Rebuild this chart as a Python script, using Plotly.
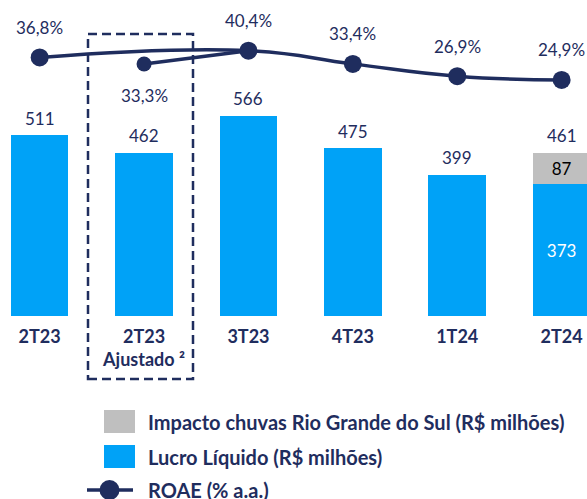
import plotly.graph_objects as go

# ---------------- data ----------------
categories = ["2T23", "2T23<br>Ajustado ²", "3T23", "4T23", "1T24", "2T24"]
lucro = [511, 462, 566, 475, 399, 373]          # Lucro Líquido (R$ milhões)
impacto = [None, None, None, None, None, 87]    # Impacto chuvas RS (R$ milhões)
totals = [511, 462, 566, 475, 399, 461]         # labels above bars
roae = [36.8, 33.3, 40.4, 33.4, 26.9, 24.9]     # ROAE (% a.a.)
ADJ_IDX = 1                                     # adjusted quarter
legend_names = ["Impacto chuvas Rio Grande do Sul (R$ milhões)",
                "Lucro Líquido (R$ milhões)",
                "ROAE (% a.a.)"]

# ---------------- style ----------------
W, H = 587, 499
PLOT_BOTTOM = 316
NAVY = "#1F2D5E"
BLUE = "#00A2F7"
GRAY = "#BFBFBF"
FONT = "Lato"

xs = list(range(len(categories)))
main_idx = [i for i in xs if i != ADJ_IDX]


def py(p):
    return (PLOT_BOTTOM - p) / PLOT_BOTTOM


def px(p):
    return p / W


fig = go.Figure()

# bars
lucro_text = ["" for _ in lucro]
lucro_text[-1] = str(lucro[-1])
imp_text = ["" if v is None else str(v) for v in impacto]

fig.add_bar(x=xs, y=lucro, width=0.551, marker=dict(color=BLUE, line=dict(width=0)),
            text=lucro_text, textposition="inside", insidetextanchor="middle",
            textfont=dict(family=FONT, size=17, color="white"), showlegend=False,
            hoverinfo="skip")
fig.add_bar(x=xs, y=impacto, width=0.551, marker=dict(color=GRAY, line=dict(width=0)),
            text=imp_text, textposition="inside", insidetextanchor="middle",
            textfont=dict(family=FONT, size=17, color="black"), showlegend=False,
            hoverinfo="skip")

# ROAE adjusted segment (its end point is covered by the main line's marker)
fig.add_scatter(x=[xs[ADJ_IDX], xs[ADJ_IDX + 1]], y=[roae[ADJ_IDX], roae[ADJ_IDX + 1]],
                yaxis="y2", mode="lines+markers",
                line=dict(color=NAVY, width=3.5),
                marker=dict(color=NAVY, size=15, opacity=1, line=dict(width=0)),
                showlegend=False, hoverinfo="skip")
# ROAE main line
fig.add_scatter(x=[xs[i] for i in main_idx], y=[roae[i] for i in main_idx],
                yaxis="y2", mode="lines+markers",
                line=dict(color=NAVY, width=3.5, shape="spline", smoothing=1.3),
                marker=dict(color=NAVY, size=18, line=dict(width=0)),
                showlegend=False, hoverinfo="skip")

annotations = []
for i in xs:
    annotations.append(dict(x=i, y=totals[i], xref="x", yref="y", text=str(totals[i]),
                            showarrow=False, yanchor="middle", yshift=17,
                            font=dict(family=FONT, size=17, color=NAVY)))
    lab = f"{roae[i]:.1f}%".replace(".", ",")
    annotations.append(dict(x=i, y=roae[i], xref="x", yref="y2", text=lab,
                            showarrow=False, yanchor="middle",
                            yshift=-31 if i == ADJ_IDX else 30,
                            font=dict(family=FONT, size=17, color=NAVY)))

# manual legend
leg_y = [421.5, 456.5, 490]
for name, yc in zip(legend_names, leg_y):
    annotations.append(dict(x=px(146), y=py(yc), xref="paper", yref="paper", text=name,
                            showarrow=False, xanchor="left", yanchor="middle",
                            font=dict(family=FONT, size=20, color=NAVY, weight="bold")))

shapes = [
    # dashed box around adjusted quarter
    dict(type="rect", xref="paper", yref="paper", x0=px(88), x1=px(193),
         y0=py(379), y1=py(34), line=dict(color=NAVY, width=2.5, dash="9px,5px"),
         layer="below"),
    dict(type="rect", xref="paper", yref="paper", x0=px(104), x1=px(135),
         y0=py(433), y1=py(410), fillcolor=GRAY, line=dict(width=0)),
    dict(type="rect", xref="paper", yref="paper", x0=px(104), x1=px(135),
         y0=py(468), y1=py(445), fillcolor=BLUE, line=dict(width=0)),
    dict(type="line", xref="paper", yref="paper", x0=px(87), x1=px(133),
         y0=py(490), y1=py(490), line=dict(color=NAVY, width=3.5)),
    dict(type="circle", xref="paper", yref="paper", xsizemode="pixel", ysizemode="pixel",
         xanchor=px(109.5), yanchor=py(490), x0=-10, x1=10, y0=-10, y1=10,
         fillcolor=NAVY, line=dict(width=0)),
]

fig.update_layout(
    width=W, height=H, barmode="stack",
    margin=dict(l=0, r=0, t=0, b=H - PLOT_BOTTOM, pad=0),
    paper_bgcolor="white", plot_bgcolor="white",
    xaxis=dict(range=[-0.380, 5.243], tickvals=xs, ticktext=categories,
               showgrid=False, zeroline=False, showline=False, ticks="",
               tickfont=dict(family=FONT, size=18, color=NAVY, weight="bold"),
               ticklabelstandoff=8, fixedrange=True),
    yaxis=dict(range=[0, 893.6], visible=False, fixedrange=True),
    yaxis2=dict(range=[-100, 67.2], overlaying="y", visible=False, fixedrange=True),
    annotations=annotations, shapes=shapes, showlegend=False,
)

fig.write_html("out.html", config={"displayModeBar": False},
               post_script="document.body.style.margin='0';document.body.style.overflow='hidden';")
